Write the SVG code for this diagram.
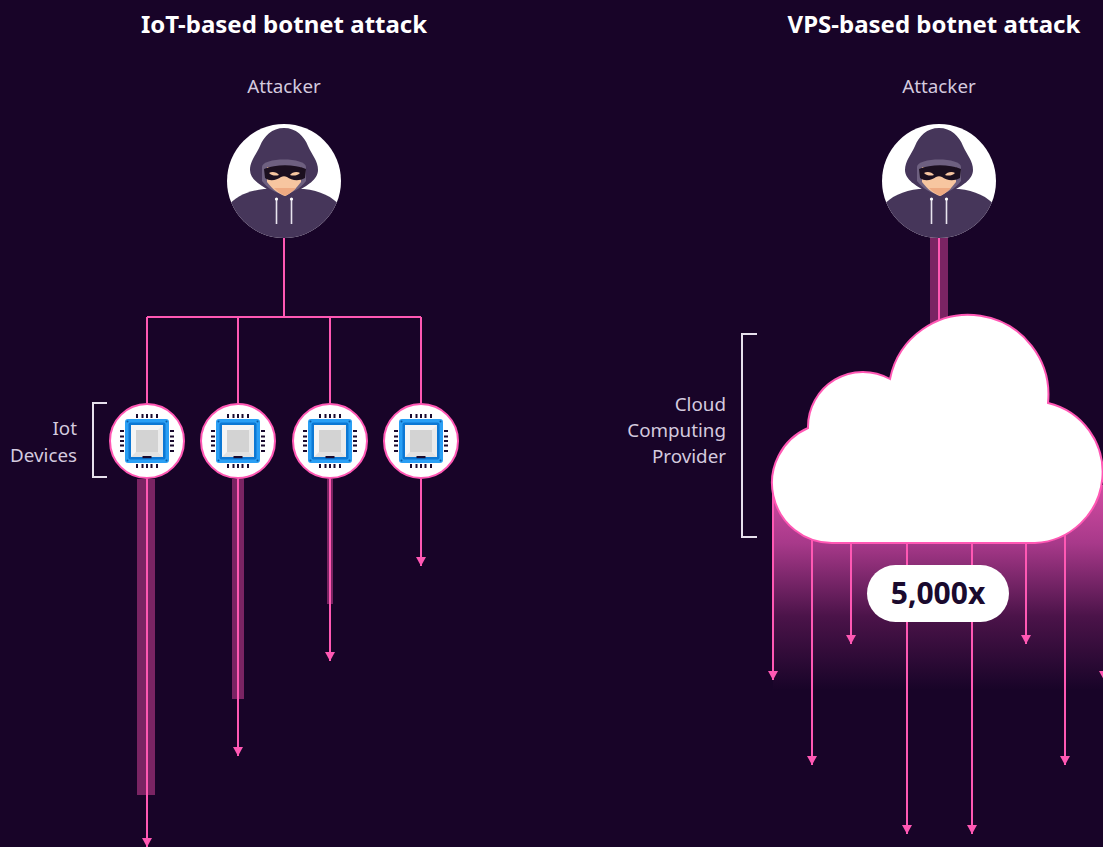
<svg xmlns="http://www.w3.org/2000/svg" width="1103" height="847" viewBox="0 0 1103 847">
  <style>
    .title { font-family: "Noto Sans", "Open Sans", sans-serif; font-weight: 700; font-size: 24px; fill: #ffffff; text-anchor: middle; }
    .label { font-family: "Noto Sans", "Open Sans", sans-serif; font-size: 18.8px; fill: #d4cadf; }
    .mid { text-anchor: middle; }
    .end { text-anchor: end; }
    .link { stroke: #ff58b4; stroke-width: 2; fill: none; }
    .arrow { stroke: #ff58b4; stroke-width: 2; fill: none; marker-end: url(#head); }
    .trail { fill: #7a2463; }
    .bracket { stroke: #e6e0ec; stroke-width: 2; fill: none; }
    .disc { fill: #ffffff; stroke: #ff58b4; stroke-width: 2; }
  </style>
  <defs>
    <marker id="head" viewBox="0 0 10 10" refX="9" refY="5" markerWidth="10" markerHeight="10" markerUnits="userSpaceOnUse" orient="auto">
      <path d="M0,0 L9,5 L0,10 Z" fill="#ff58b4"/>
    </marker>
    <linearGradient id="spill" gradientUnits="userSpaceOnUse" x1="0" y1="480" x2="0" y2="690">
      <stop offset="0" stop-color="#d64ea4"/>
      <stop offset="0.3" stop-color="#a8398a"/>
      <stop offset="0.65" stop-color="#4b1349"/>
      <stop offset="1" stop-color="#180428"/>
    </linearGradient>
    <clipPath id="avatarClip">
      <circle cx="0" cy="0" r="57"/>
    </clipPath>
    <!-- hooded figure, centred on the origin -->
    <g id="hacker">
      <circle cx="0" cy="0" r="57" fill="#ffffff"/>
      <g clip-path="url(#avatarClip)">
        <path d="M-60 62 L-60 30 C-52 17 -38 10 -20 8 L20 8 C38 10 52 17 60 30 L60 62 Z" fill="#46365a"/>
        <path d="M0 -53 C-12 -53 -20 -45 -24 -35 C-28 -26 -34 -20 -34 -11 C-34 -1 -22 5 -14 10 L14 10 C22 5 34 -1 34 -11 C34 -20 28 -26 24 -35 C20 -45 12 -53 0 -53 Z" fill="#46365a"/>
        <path d="M-22 -14 C-22 -24 22 -24 22 -14 L22 0 C16 8 8 12 0 14 C-8 12 -16 8 -22 0 Z" fill="#6e6080"/>
        <path d="M-17 -14 L17 -14 L17 1 C11 9 6 13 1 15 C-5 13 -11 9 -17 1 Z" fill="#f7c6a0"/>
        <path d="M-10 7 L12 7 C8 11 5 13 1 15 C-3 13 -7 10 -10 7 Z" fill="#eeaa82"/>
        <path d="M-20 -12 C-8 -17 10 -17 22 -12 L21 -3 C14 1 7 -1 3 -4 C1 -5 -1 -5 -3 -4 C-7 -1 -14 1 -19 -3 Z" fill="#1b0f1f"/>
        <path d="M-15 -8 C-12 -10 -7 -9 -5 -6 C-8 -5 -12 -5 -15 -8 Z" fill="#f7c6a0"/>
        <path d="M16 -8 C13 -10 8 -9 6 -6 C9 -5 13 -5 16 -8 Z" fill="#f7c6a0"/>
        <line x1="-7.5" y1="18" x2="-7.5" y2="43" stroke="#e8e4ee" stroke-width="1.6"/>
        <line x1="7.5" y1="18" x2="7.5" y2="43" stroke="#e8e4ee" stroke-width="1.6"/>
        <circle cx="-7.5" cy="18" r="1.6" fill="#ffffff"/>
        <circle cx="7.5" cy="18" r="1.6" fill="#ffffff"/>
      </g>
    </g>
    <!-- processor chip, centred on the origin -->
    <g id="chip">
      <g fill="#1a0a2e">
        <rect x="-11" y="-27" width="2" height="4"/><rect x="-5.5" y="-27" width="2" height="4"/><rect x="-1" y="-27" width="2" height="4"/><rect x="3.5" y="-27" width="2" height="4"/><rect x="9" y="-27" width="2" height="4"/>
        <rect x="-11" y="23" width="2" height="4"/><rect x="-5.5" y="23" width="2" height="4"/><rect x="-1" y="23" width="2" height="4"/><rect x="3.5" y="23" width="2" height="4"/><rect x="9" y="23" width="2" height="4"/>
        <rect x="-27" y="-11" width="4" height="2"/><rect x="-27" y="-5.5" width="4" height="2"/><rect x="-27" y="-1" width="4" height="2"/><rect x="-27" y="3.5" width="4" height="2"/><rect x="-27" y="9" width="4" height="2"/>
        <rect x="23" y="-11" width="4" height="2"/><rect x="23" y="-5.5" width="4" height="2"/><rect x="23" y="-1" width="4" height="2"/><rect x="23" y="3.5" width="4" height="2"/><rect x="23" y="9" width="4" height="2"/>
      </g>
      <rect x="-22" y="-22" width="44" height="44" rx="3" fill="#2a9ff4"/>
      <rect x="-18.5" y="-18.5" width="37" height="37" rx="2" fill="#0c78d4"/>
      <g fill="#0a5aa3">
        <circle cx="-19.5" cy="-19.5" r="1"/><circle cx="19.5" cy="-19.5" r="1"/><circle cx="-19.5" cy="19.5" r="1"/><circle cx="19.5" cy="19.5" r="1"/>
      </g>
      <rect x="-16" y="-16" width="32" height="32" fill="#f5f5f5"/>
      <path d="M-16 16 L-11 11 L11 11 L16 16 Z" fill="#e2e2e2"/>
      <path d="M16 -16 L11 -11 L11 11 L16 16 Z" fill="#ebebeb"/>
      <rect x="-11" y="-11" width="22" height="22" fill="#d3d3d3"/>
      <rect x="-4.5" y="15" width="9" height="2.2" fill="#1a0a2e"/>
    </g>
  </defs>

  <rect width="1103" height="847" fill="#180428"/>

  <!-- headings -->
  <g id="headings">
    <text class="title" x="284" y="33">IoT-based botnet attack</text>
    <text class="title" x="934" y="33">VPS-based botnet attack</text>
  </g>

  <!-- left: IoT botnet -->
  <g id="iot-attacker">
    <text class="label mid" x="284" y="93">Attacker</text>
    <use href="#hacker" x="284" y="181"/>
  </g>

  <g id="connectors">
    <!-- fan-out from the attacker to the devices -->
    <path class="link" d="M284 238 V317 M147 317 H421 M147 317 V403 M238 317 V403 M330 317 V403 M421 317 V403"/>
    <!-- fading traffic trails under the devices -->
    <rect class="trail" x="137" y="479" width="18" height="316"/>
    <rect class="trail" x="232" y="479" width="12" height="220"/>
    <rect class="trail" x="327" y="479" width="6" height="125"/>
    <line class="arrow" x1="147" y1="479" x2="147" y2="847"/>
    <line class="arrow" x1="238" y1="479" x2="238" y2="756"/>
    <line class="arrow" x1="330" y1="479" x2="330" y2="661"/>
    <line class="arrow" x1="421" y1="479" x2="421" y2="566"/>

    <!-- right: attacker to cloud -->
    <rect class="trail" x="930" y="236" width="18" height="90"/>
    <line class="link" x1="939" y1="238" x2="939" y2="326"/>

    <!-- glow spilling from the cloud -->
    <rect x="773" y="485" width="330" height="205" fill="url(#spill)"/>
    <line class="arrow" x1="773" y1="486" x2="773" y2="680"/>
    <line class="arrow" x1="812" y1="500" x2="812" y2="765"/>
    <line class="arrow" x1="851" y1="500" x2="851" y2="644"/>
    <line class="arrow" x1="907" y1="500" x2="907" y2="834"/>
    <line class="arrow" x1="972" y1="500" x2="972" y2="834"/>
    <line class="arrow" x1="1026" y1="500" x2="1026" y2="644"/>
    <line class="arrow" x1="1065" y1="500" x2="1065" y2="765"/>
    <line class="arrow" x1="1104" y1="486" x2="1104" y2="680"/>
  </g>

  <g id="iot-devices">
    <path class="bracket" d="M107 403 H93 V477 H107"/>
    <text class="label end" x="77" y="435">Iot</text>
    <text class="label end" x="77" y="462">Devices</text>
  </g>
  <g id="device-1"><circle class="disc" cx="147" cy="441" r="37"/><use href="#chip" x="147" y="441"/></g>
  <g id="device-2"><circle class="disc" cx="238" cy="441" r="37"/><use href="#chip" x="238" y="441"/></g>
  <g id="device-3"><circle class="disc" cx="330" cy="441" r="37"/><use href="#chip" x="330" y="441"/></g>
  <g id="device-4"><circle class="disc" cx="421" cy="441" r="37"/><use href="#chip" x="421" y="441"/></g>

  <!-- right: VPS botnet -->
  <g id="vps-attacker">
    <text class="label mid" x="939" y="93">Attacker</text>
    <use href="#hacker" x="939" y="181"/>
  </g>

  <g id="cloud-provider">
    <path class="bracket" d="M757 334 H742 V537 H757"/>
    <text class="label end" x="726" y="411">Cloud</text>
    <text class="label end" x="726" y="437">Computing</text>
    <text class="label end" x="726" y="463">Provider</text>
    <path d="M833 543 A60 60 0 0 1 808 428 A55 55 0 0 1 890 379 A80 80 0 0 1 1048 403 A71 71 0 0 1 1035 543 Z" fill="#ffffff" stroke="#ff58b4" stroke-width="2"/>
  </g>

  <g id="multiplier">
    <rect x="867" y="565" width="142" height="57" rx="28.5" fill="#ffffff"/>
    <text x="938" y="604" font-family="Noto Sans, Open Sans, sans-serif" font-weight="700" font-size="30" fill="#1a0a2e" text-anchor="middle">5,000x</text>
  </g>
</svg>
